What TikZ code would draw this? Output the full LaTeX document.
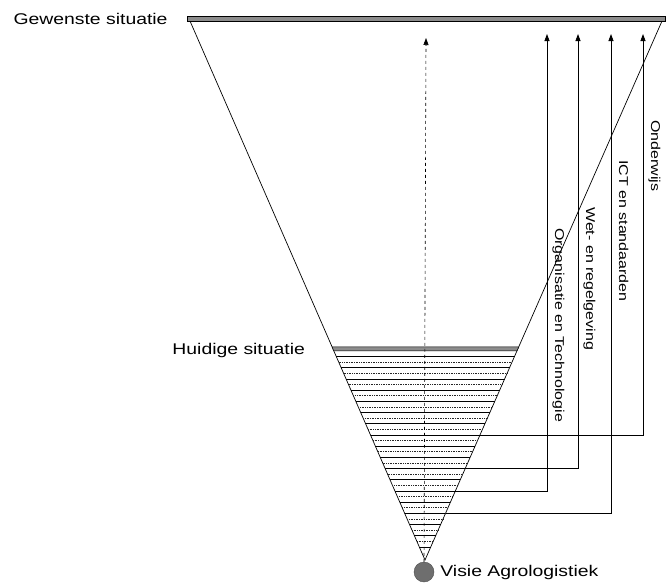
\documentclass[tikz,border=0pt]{standalone}
\usepackage{fontspec}
\newfontfamily\lblfont{Liberation Sans}[FakeStretch=1.25]
\usetikzlibrary{arrows.meta, positioning, calc}
\definecolor{barfill}{HTML}{8C8C8C}
\definecolor{ballfill}{HTML}{6E6E6E}

\begin{document}
\begin{tikzpicture}[
    x=1pt, y=-1pt,
    edge/.style={draw, line width=0.7pt},
    bar/.style={draw, line width=0.5pt, fill=barfill},
    flow/.style={draw, line width=0.8pt, -{Triangle[length=7pt, width=5pt]}},
    side/.style={font=\lblfont\fontsize{15.5}{18}\selectfont, inner sep=0pt},
    topic/.style={font=\lblfont\fontsize{12.8}{15}\selectfont, rotate=-90,
                  inner sep=0pt, anchor=base west},
]
    \useasboundingbox (0,0) rectangle (668,584);

    % funnel
    \coordinate (topL) at (190,21);
    \coordinate (topR) at (662,21);
    \coordinate (apex) at (425,560);
    \draw[edge] (topL) -- (apex) -- (topR);

    \node[bar, minimum width=478pt, minimum height=5pt, inner sep=0pt] (goal) at (426,18.5) {};
    \node[side, left=19pt of goal.west] {Gewenste situatie};

    % huidige laag + lagen eronder
    \coordinate (nowL) at ($(topL)!0.6048!(apex)$);
    \coordinate (nowR) at ($(topR)!0.6048!(apex)$);
    \draw[bar] (nowL) -- (nowR) -- ($(topR)!0.6122!(apex)$) -- ($(topL)!0.6122!(apex)$) -- cycle;
    \node[side, left=27pt of nowL, yshift=-3pt] {Huidige situatie};

    \foreach \k in {1,...,35} {
        \pgfmathsetmacro{\fr}{(330+5.6*\k)/539}
        \ifodd\k
            \draw[line width=0.9pt] ($(topL)!\fr!(apex)$) -- ($(topR)!\fr!(apex)$);
        \else
            \draw[line width=0.7pt, black!85, densely dotted] ($(topL)!\fr!(apex)$) -- ($(topR)!\fr!(apex)$);
        \fi
    }

    % visie
    \node[circle, fill=ballfill, draw=black!70, minimum size=20pt, inner sep=0pt] (vision) at (424,572) {};
    \node[side, right=6pt of vision] {Visie Agrologistiek};
    \coordinate (visT) at (426,38);
    \draw[flow, line width=0.6pt, dashed] (vision.north) -- (visT);

    % sporen
    \coordinate (orgS) at ($(topR)!0.8720!(apex)$);
    \coordinate (wetS) at ($(topR)!0.8293!(apex)$);
    \coordinate (ictS) at ($(topR)!0.9128!(apex)$);
    \coordinate (ondS) at ($(topR)!0.7681!(apex)$);
    \coordinate (orgT) at (547,34);
    \coordinate (wetT) at (578,34);
    \coordinate (ictT) at (611,34);
    \coordinate (ondT) at (643,34);

    \draw[flow] (orgS) -- (orgS -| orgT) -- (orgT);
    \draw[flow] (wetS) -- (wetS -| wetT) -- (wetT);
    \draw[flow] (ictS) -- (ictS -| ictT) -- (ictT);
    \draw[flow] (ondS) -- (ondS -| ondT) -- (ondT);

    \node[topic] at (555,228) {Organisatie en Technologie};
    \node[topic] at (586,207) {Wet- en regelgeving};
    \node[topic] at (619,160) {ICT en standaarden};
    \node[topic] at (651,120) {Onderwijs};
\end{tikzpicture}
\end{document}
